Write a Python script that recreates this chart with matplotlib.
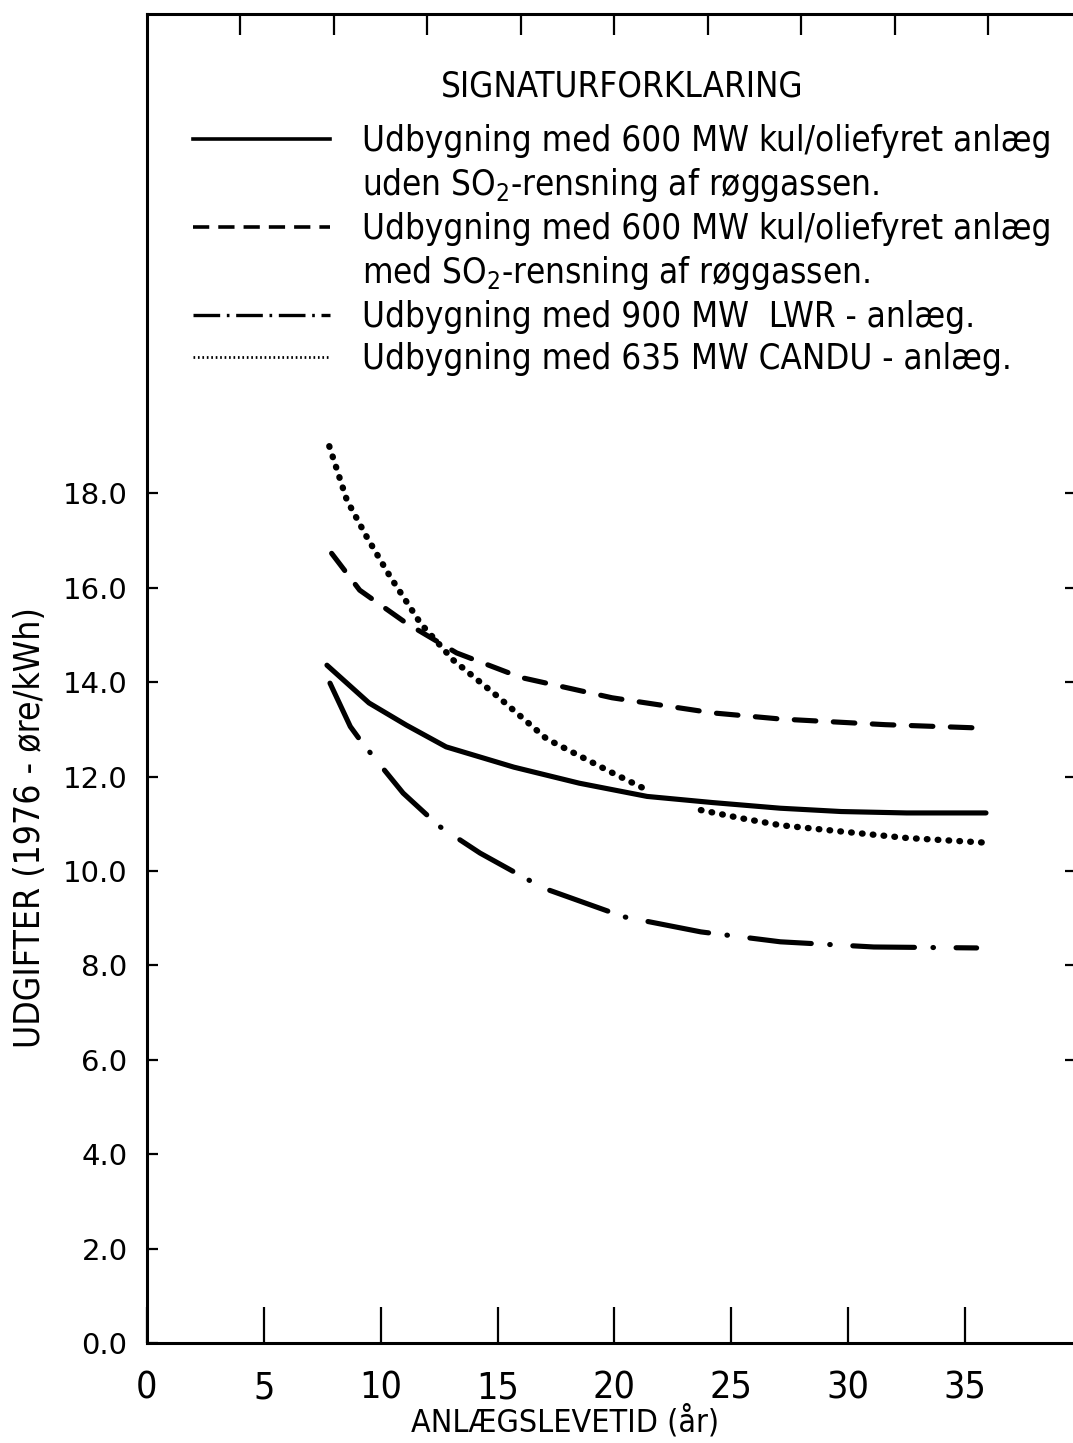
import numpy as np
import matplotlib
matplotlib.use("Agg")
import matplotlib.pyplot as plt
from matplotlib.lines import Line2D
from matplotlib.ticker import FixedLocator, NullFormatter

plt.rcParams['font.family'] = ['DejaVu Sans']
plt.rcParams['font.stretch'] = 'condensed'
plt.rcParams['mathtext.fontset'] = 'custom'
plt.rcParams['mathtext.rm'] = 'DejaVu Sans:stretch=condensed'

# ---- data ----
x_uden = [7.7, 9.5, 11.1, 12.8, 15.7, 18.5, 21.4, 24.2, 27.1, 29.7, 32.5, 35.9]
y_uden = [14.36, 13.56, 13.09, 12.63, 12.2, 11.86, 11.58, 11.45, 11.33, 11.26, 11.23, 11.23]

x_med = [7.9, 9.1, 11.1, 13.25, 16.0, 19.9, 24.2, 27.1, 31.6, 35.6]
y_med = [16.73, 15.95, 15.25, 14.62, 14.1, 13.67, 13.35, 13.22, 13.1, 13.03]

x_lwr = [7.83, 8.7, 9.2, 10.96, 12.5, 14.25, 16.95, 20.4, 23.7, 27.1, 31.1, 35.5]
y_lwr = [13.98, 13.06, 12.72, 11.65, 10.95, 10.38, 9.64, 9.03, 8.71, 8.5, 8.39, 8.37]

x_candu = [7.8, 8.55, 9.4, 10.4, 11.7, 13.1, 15.0, 17.1, 19.95, 21.3, 22.5,
           23.7, 25.4, 27.1, 29.65, 32.5, 35.9]
y_candu = [19.0, 17.86, 17.08, 16.24, 15.25, 14.47, 13.7, 12.8, 12.07, 11.74, np.nan,
           11.29, 11.12, 10.97, 10.84, 10.7, 10.6]

x_ticks = [0, 5, 10, 15, 20, 25, 30, 35]
y_ticks = [0.0, 2.0, 4.0, 6.0, 8.0, 10.0, 12.0, 14.0, 16.0, 18.0]
y_ticklabels = ["0.0", "2.0", "4.0", "6.0", "8.0", "10.0", "12.0", "14.0", "16.0", "18.0"]
top_ticks = [4, 8, 12, 16, 20, 24, 28, 32, 36]
right_ticks = [6, 8, 10, 12, 14, 16, 18]

labels = [
    "Udbygning med 600 MW kul/oliefyret anlæg",
    "uden $\\mathregular{SO_2}$-rensning af røggassen.",
    "Udbygning med 600 MW kul/oliefyret anlæg",
    "med $\\mathregular{SO_2}$-rensning af røggassen.",
    "Udbygning med 900 MW  LWR - anlæg.",
    "Udbygning med 635 MW CANDU - anlæg.",
]

# ---- figure ----
W, H = 1073, 1443
fig = plt.figure(figsize=(W / 100, H / 100), dpi=100)
left_px, right_px, bottom_px, top_px = 147, 1076, 100, 1429
ax = fig.add_axes([left_px / W, bottom_px / H, (right_px - left_px) / W, (top_px - bottom_px) / H])
ax.set_xlim(0, (right_px - left_px) / 23.37)
ax.set_ylim(0, (top_px - bottom_px) / 47.2)

lw = 3.7
ax.plot(x_uden, y_uden, color='black', lw=lw, solid_capstyle='round')
ax.plot(x_med, y_med, color='black', lw=lw, linestyle=(0, (4.2, 3.4)), dash_capstyle='round')
ax.plot(x_lwr, y_lwr, color='black', lw=lw, linestyle=(0, (12.0, 3.6, 0.1, 4.4)), dash_capstyle='round')
ax.plot(x_candu, y_candu, color='black', lw=4.6, linestyle=(0, (0.1, 1.6)), dash_capstyle='round')

for s in ax.spines.values():
    s.set_linewidth(2.2)

ax.set_xticks(x_ticks)
ax.set_xticklabels([str(v) for v in x_ticks])
ax.set_yticks(y_ticks)
ax.set_yticklabels(y_ticklabels)
ax.tick_params(axis='x', direction='in', length=26, width=1.6, labelsize=27, pad=20, top=False)
ax.tick_params(axis='y', direction='in', length=8, width=1.6, pad=14, right=False)
for t in ax.get_yticklabels():
    t.set_fontstretch('normal')
    t.set_fontsize(21)

# top ticks
axt = ax.secondary_xaxis('top')
axt.xaxis.set_major_locator(FixedLocator(top_ticks))
axt.xaxis.set_major_formatter(NullFormatter())
axt.tick_params(direction='in', length=15, width=1.6)
axt.spines['top'].set_visible(False)
# right ticks
axr = ax.secondary_yaxis('right')
axr.yaxis.set_major_locator(FixedLocator(right_ticks))
axr.yaxis.set_major_formatter(NullFormatter())
axr.tick_params(direction='in', length=8, width=1.6)
axr.spines['right'].set_visible(False)

ax.set_xlabel("ANLÆGSLEVETID (år)", fontsize=23)
ax.xaxis.set_label_coords(0.45, -0.047)
ax.set_ylabel("UDGIFTER (1976 - øre/kWh)", fontsize=25.5)
ax.yaxis.set_label_coords(-0.108, 0.3875)

# legend
blank = Line2D([], [], color='none')
h_solid = Line2D([], [], color='black', lw=2.6)
h_dash = Line2D([], [], color='black', lw=2.6, linestyle=(0, (4.5, 2.5)))
h_dd = Line2D([], [], color='black', lw=2.4, linestyle=(0, (8.0, 2.0, 0.8, 2.0)))
h_dot = Line2D([], [], color='black', lw=2.0, linestyle=(0, (0.6, 1.0)))
handles = [h_solid, blank, h_dash, blank, h_dd, h_dot]
leg = ax.legend(handles, labels, loc='upper left', bbox_to_anchor=(0.0345, 0.969),
                frameon=False, fontsize=25, handlelength=3.95, handletextpad=0.92,
                labelspacing=0.23, title="SIGNATURFORKLARING", title_fontsize=25,
                borderaxespad=0.0)
leg._legend_box.align = "center"
leg._legend_box.sep = 15

fig.savefig("out.png", dpi=100)
